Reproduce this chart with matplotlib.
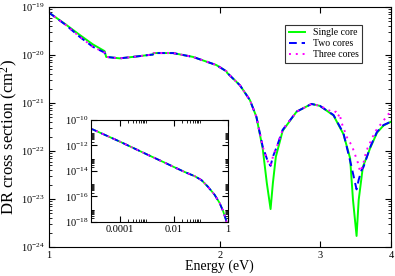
import numpy as np
import matplotlib
matplotlib.use("Agg")
import matplotlib.pyplot as plt
from matplotlib.ticker import FixedLocator, FuncFormatter, LogLocator, LogFormatterMathtext, NullLocator, NullFormatter

plt.rcParams['font.family'] = ['Liberation Serif', 'DejaVu Serif']
plt.rcParams['mathtext.fontset'] = 'custom'
plt.rcParams['mathtext.rm'] = 'Liberation Serif'
plt.rcParams['mathtext.it'] = 'Liberation Serif:italic'

# ---- main panel data (energy in eV, log10 of cross section in cm^2) ----
E_single = [1.0, 1.074, 1.134, 1.197, 1.255, 1.263, 1.334, 1.407, 1.526, 1.53, 1.655, 1.795,
            1.845, 1.973, 2.055, 2.06, 2.17, 2.26, 2.32, 2.38, 2.42, 2.457, 2.48, 2.51, 2.58,
            2.73, 2.90, 3.0, 3.17, 3.30, 3.39, 3.43, 3.48, 3.51, 3.57, 3.68, 3.78, 3.88, 4.0]
lg_single = [-19.11, -19.37, -19.58, -19.78, -19.92, -20.04, -20.07, -20.04, -19.99, -19.96, -19.96, -20.04,
             -20.09, -20.21, -20.34, -20.37, -20.63, -20.94, -21.29, -21.95, -22.67, -23.21, -22.67, -22.12, -21.58,
             -21.18, -21.02, -21.06, -21.26, -21.65, -22.15, -23.02, -23.77, -23.02, -22.33, -21.93, -21.62, -21.47, -21.39]

E_two = [1.0, 1.074, 1.134, 1.197, 1.255, 1.263, 1.334, 1.407, 1.526, 1.53, 1.655, 1.795,
         1.845, 1.973, 2.055, 2.06, 2.17, 2.26, 2.32, 2.38, 2.43, 2.457, 2.48, 2.52, 2.58,
         2.73, 2.90, 3.0, 3.17, 3.30, 3.41, 3.46, 3.48, 3.51, 3.55, 3.58, 3.68, 3.78, 3.88, 4.0]
lg_two = [-19.11, -19.38, -19.62, -19.83, -19.95, -20.04, -20.07, -20.04, -19.99, -19.96, -19.96, -20.04,
          -20.09, -20.21, -20.34, -20.37, -20.63, -20.94, -21.29, -21.91, -22.22, -22.31, -22.12, -21.91, -21.56,
          -21.18, -21.02, -21.06, -21.25, -21.63, -22.33, -22.67, -22.80, -22.6, -22.4, -22.33, -21.91, -21.6, -21.46, -21.39]

E_three = [1.0, 1.074, 1.134, 1.197, 1.255, 1.263, 1.334, 1.407, 1.526, 1.53, 1.655, 1.795,
           1.845, 1.973, 2.055, 2.06, 2.17, 2.26, 2.32, 2.38, 2.43, 2.457, 2.48, 2.52, 2.58,
           2.73, 2.90, 3.0, 3.17, 3.20, 3.23, 3.25, 3.27, 3.32, 3.36, 3.41, 3.45, 3.50, 3.53,
           3.57, 3.62, 3.75, 3.85, 3.96, 4.0]
lg_three = [-19.11, -19.38, -19.62, -19.83, -19.95, -20.04, -20.07, -20.04, -19.99, -19.96, -19.96, -20.04,
            -20.09, -20.21, -20.34, -20.37, -20.63, -20.94, -21.29, -21.91, -22.22, -22.31, -22.12, -21.91, -21.56,
            -21.18, -21.02, -21.06, -21.2, -21.18, -21.28, -21.22, -21.39, -21.6, -21.77, -21.87, -22.04, -22.25, -22.43,
            -22.3, -22.0, -21.6, -21.42, -21.23, -21.2]

# ---- inset data (low energy part) ----
E_inset = [8.1e-6, 1e-4, 1e-3, 4.7e-3, 1e-2, 0.025, 0.059, 0.105, 0.18, 0.32, 0.49, 0.66, 0.83, 0.93]
lg_inset_single = [-10.66, -11.7, -12.7, -13.36, -13.69, -14.08, -14.41, -14.72, -15.23, -15.87,
                   -16.51, -17.15, -17.79, -18.2]
lg_inset_two = lg_inset_single
lg_inset_three = lg_inset_single

labels = ['Single core', 'Two cores', 'Three cores']
colors = ['#00ff00', '#0000ff', '#ff00ff']
styles = ['-', (0, (4, 2.5)), (0, (1, 2.5))]

fig = plt.figure(figsize=(3.95, 2.76), dpi=100)
ax = fig.add_axes([0.1228, 0.1051, 0.867, 0.8696])

series = [(E_single, lg_single), (E_two, lg_two), (E_three, lg_three)]
for (e, lg), lab, c, ls in zip(series, labels, colors, styles):
    ax.plot(e, 10.0 ** np.array(lg), color=c, ls=ls, lw=1.4, label=lab)

ax.set_xscale('log')
ax.set_yscale('log')
ax.set_xlim(1, 4)
ax.set_ylim(1e-24, 1e-19)
ax.xaxis.set_major_locator(FixedLocator([1, 2, 3, 4]))
ax.xaxis.set_major_formatter(FuncFormatter(lambda v, p: '%d' % round(v)))
ax.xaxis.set_minor_locator(NullLocator())
ax.yaxis.set_major_locator(LogLocator(base=10, numticks=20))
ax.yaxis.set_minor_locator(LogLocator(base=10, subs=np.arange(2, 10), numticks=50))
ax.yaxis.set_major_formatter(LogFormatterMathtext())
ax.yaxis.set_minor_formatter(NullFormatter())
ax.tick_params(which='both', direction='in', top=True, right=True, labelsize=7.5, pad=3)
ax.tick_params(which='major', length=4)
ax.tick_params(which='minor', length=2)
ax.set_xlabel('Energy (eV)', fontsize=10)
ax.xaxis.set_label_coords(0.5, -0.052)
ax.set_ylabel('DR cross section (cm$^2$)', fontsize=12)
ax.yaxis.set_label_coords(-0.083, 0.46)

leg = ax.legend(loc='upper right', bbox_to_anchor=(0.931, 0.947), fontsize=7, handlelength=1.6,
                fancybox=False, edgecolor='#333333', framealpha=1, borderpad=0.4, labelspacing=0.2,
                handletextpad=0.8)
leg.get_frame().set_linewidth(0.8)

# inset
axi = fig.add_axes([0.2304, 0.1957, 0.3468, 0.3696])
inset_series = [lg_inset_single, lg_inset_two, lg_inset_three]
for lg, c, ls in zip(inset_series, colors, styles):
    axi.plot(E_inset, 10.0 ** np.array(lg), color=c, ls=ls, lw=1.3)
axi.set_xscale('log')
axi.set_yscale('log')
axi.set_xlim(8.5e-6, 1)
axi.set_ylim(1e-18, 1e-10)
axi.xaxis.set_major_locator(FixedLocator([1e-4, 1e-2, 1]))
axi.xaxis.set_major_formatter(FuncFormatter(lambda v, p: {1e-4: '0.0001', 1e-2: '0.01', 1: '1'}.get(v, '')))
axi.xaxis.set_minor_locator(FixedLocator([k * 10.0 ** d for d in (-4, -2) for k in range(2, 10)]))
axi.xaxis.set_minor_formatter(NullFormatter())
axi.yaxis.set_major_locator(FixedLocator([1e-18, 1e-16, 1e-14, 1e-12, 1e-10]))
axi.yaxis.set_major_formatter(LogFormatterMathtext())
axi.yaxis.set_minor_locator(FixedLocator([k * 10.0 ** d for d in (-18, -16, -14, -12) for k in range(2, 10)]))
axi.yaxis.set_minor_formatter(NullFormatter())
axi.tick_params(which='both', direction='in', top=True, right=True, labelsize=7.5, pad=2)
axi.tick_params(which='major', length=4)
axi.tick_params(which='minor', length=2)

fig.savefig('out.png', dpi=100)
